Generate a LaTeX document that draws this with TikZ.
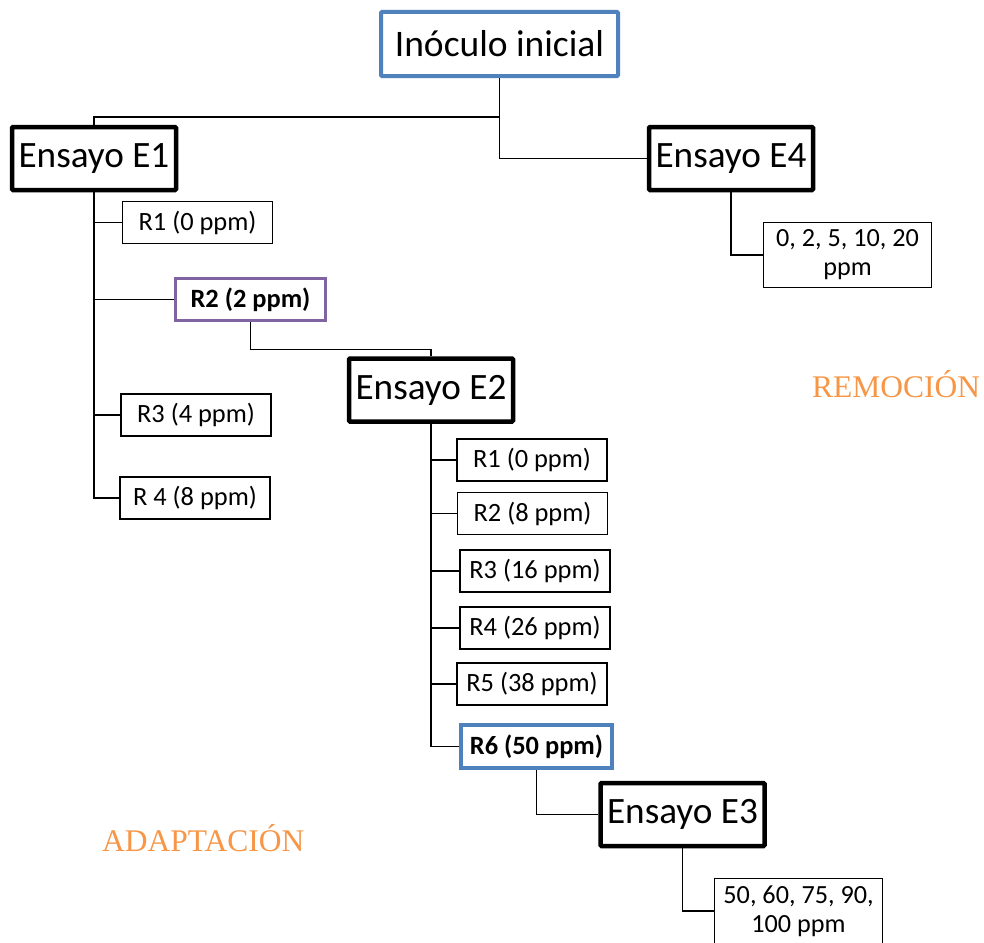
\documentclass[tikz,border=0pt]{standalone}
\usepackage{fontspec}
\setmainfont{Carlito}
\newfontfamily\orfont{Liberation Serif}
\definecolor{boxblue}{HTML}{4F81BD}
\definecolor{boxpurple}{HTML}{8064A2}
\definecolor{lblorange}{HTML}{F79646}
\begin{document}
\begin{tikzpicture}[x=1pt,y=-1pt,
  big/.style={draw=black,line width=4.5pt,fill=white,inner sep=0pt,rounded corners=1pt,
    minimum width=164pt,minimum height=63pt,font=\fontsize{37.2}{44}\selectfont},
  sm/.style={draw=black,line width=1.4pt,fill=white,inner sep=0pt,
    minimum width=150pt,minimum height=42pt,font=\fontsize{26.4}{29}\selectfont},
  two/.style={sm,align=center,minimum width=167.5pt,minimum height=64.5pt,font=\fontsize{26.2}{29}\selectfont},
  conn/.style={draw=black,line width=1.5pt},
  tag/.style={text=lblorange,font=\orfont\fontsize{31.5}{36}\selectfont,inner sep=0pt,anchor=base west}]
\useasboundingbox (0,0) rectangle (984,942);
\clip (0,0) rectangle (984,942);
\fill[white] (0,0) rectangle (984,942);

\node[big,draw=boxblue,line width=4pt,minimum width=237pt,minimum height=64pt,font=\fontsize{37.5}{44}\selectfont] (ino) at (499.5,44) {Inóculo inicial};
\node[big] (e1) at (94,158.5) {Ensayo E1};
\node[big] (e4) at (731,158.5) {Ensayo E4};
\node[big] (e2) at (431,390) {Ensayo E2};
\node[big] (e3) at (682.5,814.5) {Ensayo E3};

\node[sm] (a1) at (197.5,222.5) {R1 (0 ppm)};
\node[sm,draw=boxpurple,line width=3.5pt,font=\fontsize{26.4}{29}\selectfont\bfseries] (a2) at (250.5,299.5) {R2 (2 ppm)};
\node[sm] (a3) at (196,415) {R3 (4 ppm)};
\node[sm] (a4) at (195,498) {R 4 (8 ppm)};

\node[sm] (b1) at (532,460) {R1 (0 ppm)};
\node[sm] (b2) at (532.5,513.5) {R2 (8 ppm)};
\node[sm] (b3) at (535,571) {R3 (16 ppm)};
\node[sm] (b4) at (535,628) {R4 (26 ppm)};
\node[sm] (b5) at (532,684) {R5 (38 ppm)};
\node[sm,draw=boxblue,line width=4pt,minimum width=151pt,minimum height=43pt,font=\fontsize{26.4}{29}\selectfont\bfseries] (b6) at (536.5,746.5) {R6 (50 ppm)};

\node[two] (c4) at (847.5,255) {0, 2, 5, 10, 20\\ppm};
\node[two] (c3) at (798.5,911) {50, 60, 75, 90,\\100 ppm};

\draw[conn] (ino.south) -- ++(0,39) coordinate (j1) -| (e1.north);
\draw[conn] (j1) |- (e4.west);
\draw[conn] (e1.south) |- (a4.west);
\draw[conn] (e1.south) |- (a1.west);
\draw[conn] (e1.south) |- (a2.west);
\draw[conn] (e1.south) |- (a3.west);
\draw[conn] (a2.south) -- ++(0,27) -| (e2.north);
\draw[conn] (e2.south) |- (b6.west);
\draw[conn] (e2.south) |- (b1.west);
\draw[conn] (e2.south) |- (b2.west);
\draw[conn] (e2.south) |- (b3.west);
\draw[conn] (e2.south) |- (b4.west);
\draw[conn] (e2.south) |- (b5.west);
\draw[conn] (b6.south) |- (e3.west);
\draw[conn] (e3.south) |- (c3.west);
\draw[conn] (e4.south) |- (c4.west);

\node[tag] (rem) at (812,397) {REMOCIÓN};
\node[tag] (ada) at (102,851) {ADAPTACIÓN};
\end{tikzpicture}
\end{document}
